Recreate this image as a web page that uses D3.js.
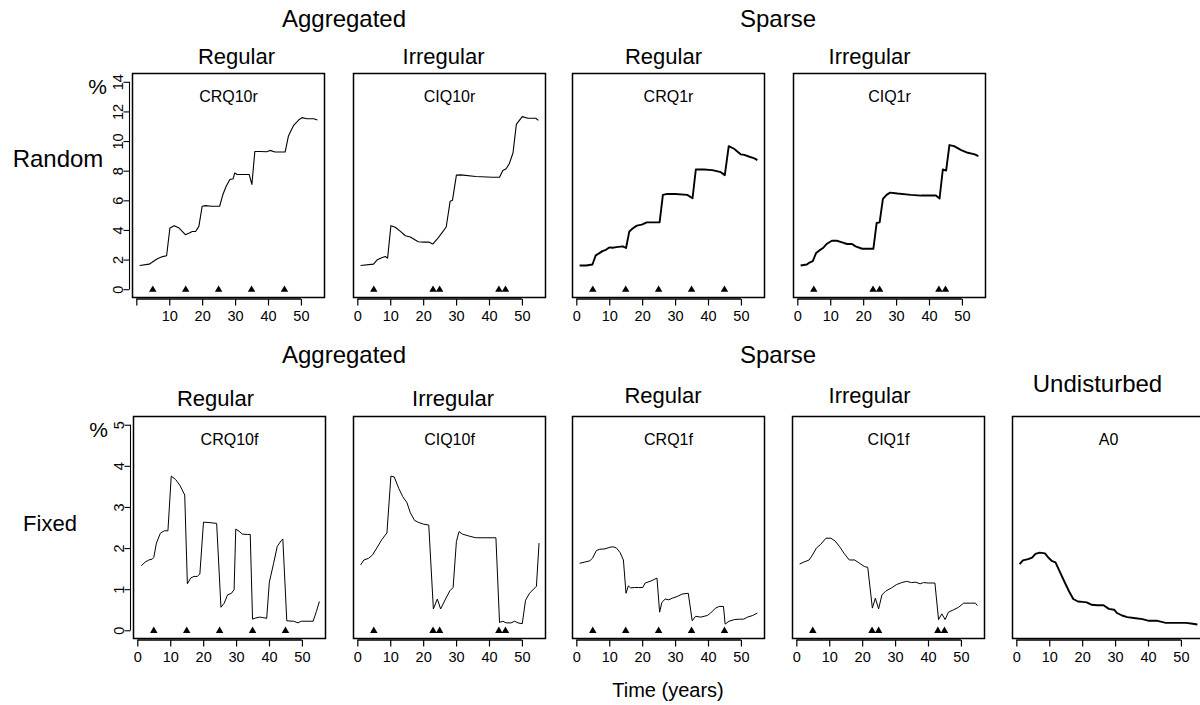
<!DOCTYPE html>
<html><head><meta charset="utf-8">
<script src="https://cdn.jsdelivr.net/npm/d3@7"></script>
<style>
html,body{margin:0;padding:0;background:#fff;}
svg{display:block;font-family:"Liberation Sans",Arial,Helvetica,sans-serif;}
</style></head>
<body><svg id="chart" width="1200" height="705"></svg>
<script>
// ---------- DATA ----------
const panelNames = ["CRQ10r","CIQ10r","CRQ1r","CIQ1r","CRQ10f","CIQ10f","CRQ1f","CIQ1f","A0"];
const groupTitles = ["Aggregated","Sparse","Aggregated","Sparse","Undisturbed"];
const subTitles = ["Regular","Irregular","Regular","Irregular","Regular","Irregular","Regular","Irregular"];
const rowLabels = ["Random","Fixed"];
const xTicks = [0,10,20,30,40,50];
const yTicksRandom = [0,2,4,6,8,10,12,14];
const yTicksFixed = [0,1,2,3,4,5];
const regularEvents = [5,15,25,35,45];
const irregularEvents = [5,23,25,43,45];

const crq10r = [[1,1.6],[3.9,1.69],[4.7,1.8],[5.9,1.99],[6.9,2.1],[8,2.2],[9.2,2.26],[10.2,4.13],[11.5,4.29],[13,4.13],[14.9,3.68],[16.1,3.8],[17,3.9],[18,3.9],[19,4.24],[20,5.6],[21,5.64],[22.8,5.6],[25.3,5.6],[26.3,6.39],[27.3,6.95],[28.4,7.4],[29.4,7.45],[29.9,7.85],[30.6,7.74],[32.4,7.74],[34.3,7.74],[35.1,7.07],[36,9.3],[37.6,9.3],[39.6,9.28],[40.6,9.37],[42.1,9.26],[45.2,9.26],[46.2,10.34],[47.8,11.06],[49.3,11.42],[50.3,11.58],[51.8,11.51],[53.9,11.51],[55,11.42]];
const ciq10r = [[1,1.6],[4.9,1.69],[6.1,1.99],[7.4,2.12],[8.5,2.21],[9.2,2.1],[10.2,4.29],[11.5,4.18],[13.1,3.9],[14.6,3.61],[16.1,3.52],[17.1,3.39],[18.5,3.2],[20.2,3.18],[21.7,3.18],[22.9,3.05],[24.3,3.39],[25.8,3.84],[27,4.2],[28.2,5.94],[28.9,6.0],[30.1,7.7],[31.4,7.72],[36,7.61],[41.1,7.56],[43.2,7.56],[44.2,8.01],[45.2,8.13],[46.2,8.49],[47.3,9.21],[48.3,11.13],[50.1,11.65],[51.8,11.54],[54.2,11.54],[55,11.4]];
const crq1r = [[1,1.6],[3,1.6],[4.9,1.67],[5.9,2.28],[6.9,2.42],[7.9,2.57],[9,2.66],[10,2.82],[11,2.8],[12.2,2.84],[14.1,2.89],[15.1,2.78],[16.1,3.9],[17.1,4.1],[18.4,4.29],[19.9,4.36],[21.4,4.51],[23.5,4.51],[25.3,4.51],[26.3,6.37],[27.6,6.43],[30.1,6.43],[33.7,6.37],[35.3,6.14],[36.3,8.08],[38.8,8.08],[41.3,8.04],[43.9,7.9],[45.1,7.7],[46.3,9.66],[47.9,9.48],[50,9.1],[51,9.07],[52.6,8.94],[54.1,8.83],[55,8.71]];
const ciq1r = [[1,1.6],[2.9,1.67],[3.7,1.8],[4.7,1.9],[5.7,2.44],[6.7,2.62],[7.8,2.78],[9,3.07],[10.5,3.27],[12,3.27],[13.6,3.16],[15.1,3.05],[16.6,3.05],[17.7,2.89],[19.7,2.73],[21.4,2.73],[23.1,2.73],[24.1,4.47],[25,4.51],[26,6.09],[27.1,6.37],[28.2,6.52],[30.4,6.46],[34.5,6.37],[37.6,6.32],[42.1,6.32],[43.2,6.12],[44.2,8.08],[45.2,8.01],[46.2,9.73],[47.6,9.66],[49.8,9.39],[51.8,9.21],[53.9,9.1],[55,8.98]];
const crq10f = [[1.2,1.57],[2.4,1.66],[3.5,1.71],[4.5,1.73],[5,1.77],[5.8,2.12],[7,2.36],[8.2,2.42],[9.3,2.42],[10.3,3.75],[11.6,3.67],[12.9,3.53],[13.6,3.42],[14.4,3.29],[15.2,1.13],[16.2,1.27],[17.2,1.31],[18.2,1.31],[19,1.37],[20.1,2.63],[21.8,2.62],[24.1,2.6],[25.4,0.56],[26.4,0.66],[27.4,0.86],[28.6,0.9],[29.4,0.99],[29.9,2.46],[30.9,2.41],[31.9,2.34],[33.5,2.33],[34.3,2.33],[35,0.27],[36,0.3],[37.1,0.32],[38.1,0.31],[39.3,0.29],[40.1,1.17],[41.4,1.63],[42.5,2.04],[43.7,2.18],[44.2,2.22],[45.4,0.23],[47.5,0.22],[48.8,0.18],[49.8,0.22],[51,0.22],[53.4,0.22],[54.4,0.46],[55.3,0.7]];
const ciq10f = [[1,1.59],[2,1.71],[3.4,1.75],[4.6,1.83],[5.9,2.0],[7.4,2.2],[9,2.37],[10.2,3.75],[11.2,3.73],[12.6,3.45],[13.8,3.25],[15.1,3.1],[16.1,2.86],[17.4,2.67],[18.7,2.62],[20.2,2.58],[21.7,2.56],[23.1,0.52],[24.3,0.76],[25.3,0.52],[26.8,0.76],[28.1,0.96],[29.1,1.04],[30.1,2.16],[30.9,2.4],[31.9,2.34],[34,2.29],[36,2.25],[39.1,2.25],[42.1,2.25],[43.2,0.19],[44.2,0.22],[45.2,0.18],[46.7,0.18],[47.8,0.22],[48.8,0.18],[50.1,0.16],[51.1,0.73],[52.3,0.9],[54.4,1.07],[55.2,2.12]];
const crq1f = [[1,1.63],[2.6,1.66],[4.1,1.69],[4.9,1.75],[6.1,1.94],[7.1,1.97],[8.7,1.98],[10.2,2.02],[11.2,2.03],[12.2,2.0],[13.3,1.89],[14.3,1.71],[15.1,0.9],[15.8,1.08],[16.5,1.03],[17.6,1.04],[18.9,1.04],[20.2,1.04],[20.9,1.15],[22.4,1.19],[23.5,1.23],[24.5,1.27],[25.3,0.44],[26,0.68],[27,0.76],[28.1,0.74],[29.1,0.78],[30.6,0.82],[32.1,0.88],[34,0.9],[35.2,0.23],[36.2,0.34],[37.8,0.32],[39.8,0.36],[40.8,0.42],[42.3,0.54],[43.4,0.58],[44.7,0.58],[45.2,0.15],[46.4,0.22],[48,0.26],[49.5,0.27],[50.8,0.27],[52,0.32],[53.6,0.36],[55,0.42]];
const ciq1f = [[1,1.61],[2.3,1.66],[3.9,1.71],[4.9,1.83],[6.1,2.0],[7.4,2.09],[9,2.24],[10.5,2.24],[11.8,2.17],[13.1,2.04],[14.6,1.86],[16.1,1.71],[17.7,1.71],[19.2,1.63],[20.7,1.55],[21.7,1.53],[23.1,0.54],[24,0.78],[25,0.52],[26,0.86],[27.1,0.95],[28.9,1.03],[30.4,1.11],[32,1.16],[33.5,1.19],[35,1.16],[36.3,1.17],[37.6,1.13],[38.6,1.16],[40.1,1.15],[42.1,1.15],[43.2,0.26],[44.2,0.4],[45.2,0.26],[46.2,0.44],[47.8,0.5],[49.3,0.56],[50.8,0.66],[52.9,0.66],[54.4,0.66],[55,0.6]];
const a0 = [[1,1.61],[2,1.7],[3.6,1.73],[4.8,1.77],[5.8,1.86],[7.1,1.89],[8.7,1.87],[9.7,1.77],[10.9,1.68],[11.9,1.65],[13.3,1.41],[14.8,1.15],[16,0.95],[17.3,0.76],[18.7,0.7],[20.1,0.69],[21.4,0.68],[22.9,0.62],[24.5,0.61],[26.5,0.61],[28.1,0.52],[29.7,0.5],[30.6,0.42],[32.1,0.36],[33.7,0.32],[35.7,0.3],[38.3,0.27],[40.3,0.23],[42.9,0.23],[45.4,0.18],[48.5,0.18],[51.5,0.18],[53.6,0.16],[55,0.14]];

const seriesList = [crq10r,ciq10r,crq1r,ciq1r,crq10f,ciq10f,crq1f,ciq1f,a0];
const eventsList = [regularEvents,irregularEvents,regularEvents,irregularEvents,regularEvents,irregularEvents,regularEvents,irregularEvents,[]];

// ---------- LAYOUT ----------
const svg = d3.select("#chart");
const rows = [{top:73.5,bottom:297.5,ymax:14,ticks:yTicksRandom},{top:416.5,bottom:638.5,ymax:5,ticks:yTicksFixed}];
const lefts = [132.5,353.5,572.5,793.5,133.5,353.5,572.5,792.5,1012.5];
const panelW = 192;
const lineW = [1.1,1.1,1.9,1.9,1,1,1,1,1.9];
const tickFont = 14.5;

seriesList.forEach((data,i)=>{
  const r = i<4 ? rows[0] : rows[1];
  const L = lefts[i], R = L+panelW;
  const x = d3.scaleLinear().domain([-1.16,57.16]).range([L,R]);
  const pad = r.ymax*0.04;
  const y = d3.scaleLinear().domain([-pad, r.ymax+pad]).range([r.bottom, r.top]);
  const g = svg.append("g");

  g.append("path").datum(data)
    .attr("d", d3.line().x(d=>x(d[0])).y(d=>y(d[1])))
    .attr("fill","none").attr("stroke","#000").attr("stroke-width",lineW[i])
    .attr("stroke-linejoin","round");

  g.selectAll("path.tri").data(eventsList[i]).join("path")
    .attr("class","tri")
    .attr("d", d3.symbol(d3.symbolTriangle, 24))
    .attr("transform", d=>`translate(${x(d)},${y(0)+0.5})`)
    .attr("fill","#000");

  g.append("rect").attr("x",L).attr("y",r.top).attr("width",panelW).attr("height",r.bottom-r.top)
    .attr("fill","none").attr("stroke","#000").attr("stroke-width",1.5);

  const xa = g.append("g").attr("transform",`translate(0,${r.bottom+1.5})`)
    .call(d3.axisBottom(x).tickValues(xTicks).tickSize(6.5).tickSizeOuter(0)
      .tickFormat(d => (i===0 && d===0) ? "" : d3.format("d")(d)));
  xa.select(".domain").attr("stroke-width",1.6).attr("d",`M${x(0)},0H${x(50)}`);
  xa.selectAll(".tick line").attr("stroke-width",1.2);
  xa.selectAll("text").attr("font-size",tickFont).attr("font-family","Liberation Sans, Arial, sans-serif").attr("fill","#000").attr("dy","0.85em");

  if(i===0 || i===4){
    const ya = g.append("g").attr("transform",`translate(${L-3},0)`)
      .call(d3.axisLeft(y).tickValues(r.ticks).tickSize(6).tickSizeOuter(0).tickFormat(d3.format("d")));
    ya.select(".domain").attr("stroke-width",1.1).attr("d",`M0,${y(0)}V${y(r.ymax)}`);
    ya.selectAll(".tick line").attr("stroke-width",1.1);
    ya.selectAll("text").attr("font-size",tickFont).attr("font-family","Liberation Sans, Arial, sans-serif")
      .attr("fill","#000").attr("text-anchor","middle")
      .attr("x",null).attr("transform","translate(-12,0) rotate(-90)").attr("dy","0.36em");
    svg.append("text").attr("x",L-35).attr("y",r.top+20).attr("text-anchor","middle")
      .attr("font-size",21).text("%");
  }

  svg.append("text").attr("x",L+panelW/2).attr("y",r.top+28).attr("text-anchor","middle")
    .attr("font-size",16).text(panelNames[i]);
});

const subX = [236.5,443.5,663.5,869.5,215.5,453,663,869.5];
const subY = [64,64,64,64,406,406,403,403];
subTitles.forEach((t,k)=>{
  svg.append("text").attr("x",subX[k]).attr("y",subY[k]).attr("text-anchor","middle")
    .attr("font-size",22).text(t);
});
const grpX = [344,778,344,778,1097.5];
const grpY = [27,27,363,363,392];
groupTitles.forEach((t,k)=>{
  svg.append("text").attr("x",grpX[k]).attr("y",grpY[k]).attr("text-anchor","middle")
    .attr("font-size",24).text(t);
});
svg.append("text").attr("x",58).attr("y",167).attr("text-anchor","middle").attr("font-size",24).text(rowLabels[0]);
svg.append("text").attr("x",50).attr("y",531).attr("text-anchor","middle").attr("font-size",22).text(rowLabels[1]);
svg.append("text").attr("x",668).attr("y",697).attr("text-anchor","middle").attr("font-size",20).text("Time (years)");
</script></body></html>
